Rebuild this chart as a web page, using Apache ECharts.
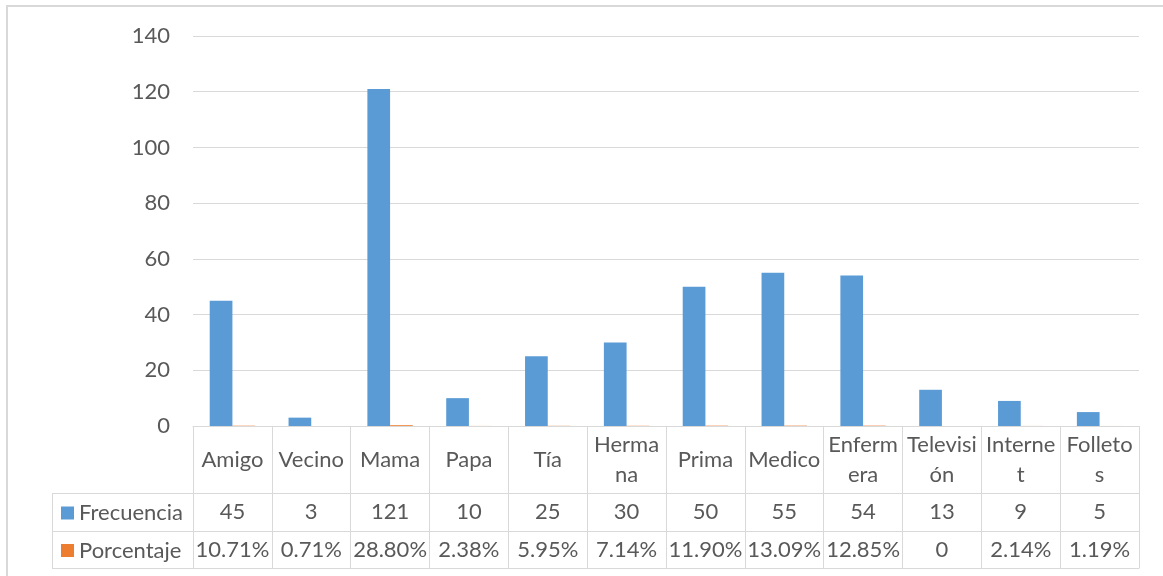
<!DOCTYPE html>
<html>
<head>
<meta charset="utf-8">
<script src="https://cdn.jsdelivr.net/npm/echarts@6/dist/echarts.min.js"></script>
<style>
html,body{margin:0;padding:0;background:#fff;}
#chart{width:1163px;height:576px;}
</style>
</head>
<body>
<div id="chart"></div>
<script>
const categories = ['Amigo','Vecino','Mama','Papa','Tía','Hermana','Prima','Medico','Enfermera','Televisión','Internet','Folletos'];
const categoryLabels = ['Amigo','Vecino','Mama','Papa','Tía','Herma\nna','Prima','Medico','Enferm\nera','Televisi\nón','Interne\nt','Folleto\ns'];
const frecuencia = [45,3,121,10,25,30,50,55,54,13,9,5];
const porcentaje = [0.1071,0.0071,0.2880,0.0238,0.0595,0.0714,0.1190,0.1309,0.1285,0,0.0214,0.0119];
const yTicks = {min:0, max:140, interval:20};

const FONT = 'Lato';
const TXT = '#595959';
const LINE = '#d9d9d9';
const FS = 22;

const gridLeft = 193, gridRight = 1139, gridTop = 36, axisY = 426;
const row1 = 67, row2 = 38, row3 = 37;
const tableLeft = 52;

function fmtPct(v){ return v === 0 ? '0' : (v*100).toFixed(2) + '%'; }

const chart = echarts.init(document.getElementById('chart'), null, {renderer:'canvas'});

const baseX = {
  type:'category', data:categories, gridIndex:0, position:'bottom',
  axisLine:{show:true, lineStyle:{color:LINE, width:1}},
  axisTick:{show:true, interval:0, lineStyle:{color:LINE, width:1}},
  axisLabel:{interval:0, color:TXT, fontFamily:FONT, fontSize:FS, verticalAlign:'middle'},
  splitLine:{show:false}
};

function legendAt(name, centerY){
  return {data:[name], orient:'vertical', left:61, top:centerY-12+1, padding:0,
    itemWidth:13, itemHeight:13, itemGap:0, icon:'rect',
    textStyle:{color:TXT, fontFamily:FONT, fontSize:FS, lineHeight:24, padding:[0,0,0,0]},
    selectedMode:false};
}

const option = {
  animation:false,
  backgroundColor:'#fff',
  textStyle:{fontFamily:FONT},
  grid:{left:gridLeft, right:1163-gridRight, top:gridTop, bottom:576-axisY, containLabel:false},
  legend:[
    legendAt('Frecuencia', axisY+row1+row2/2),
    legendAt('Porcentaje', axisY+row1+row2+row3/2)
  ],
  xAxis:[
    Object.assign({}, baseX, {
      axisTick:{show:true, interval:0, length:row1, lineStyle:{color:LINE}},
      axisLabel:Object.assign({}, baseX.axisLabel, {margin:row1/2, lineHeight:30,
        formatter:(v,i)=>categoryLabels[i]})
    }),
    Object.assign({}, baseX, {
      offset:row1,
      axisTick:{show:true, interval:0, length:row2, lineStyle:{color:LINE}},
      axisLabel:Object.assign({}, baseX.axisLabel, {margin:row2/2,
        formatter:(v,i)=>String(frecuencia[i])})
    }),
    Object.assign({}, baseX, {
      offset:row1+row2,
      axisTick:{show:true, interval:0, length:row3, lineStyle:{color:LINE}},
      axisLabel:Object.assign({}, baseX.axisLabel, {margin:row3/2,
        formatter:(v,i)=>fmtPct(porcentaje[i])})
    }),
    Object.assign({}, baseX, {
      offset:row1+row2+row3,
      axisTick:{show:false},
      axisLabel:{show:false}
    })
  ],
  yAxis:{
    type:'value', min:yTicks.min, max:yTicks.max, interval:yTicks.interval,
    axisLine:{show:false}, axisTick:{show:false},
    axisLabel:{color:TXT, fontFamily:FONT, fontSize:FS, margin:23},
    splitLine:{show:true, lineStyle:{color:LINE, width:1}}
  },
  series:[
    {name:'Frecuencia', type:'bar', xAxisIndex:0, data:frecuencia, barWidth:'28.8%', barGap:'0%',
     itemStyle:{color:'#5B9BD5'}},
    {name:'Porcentaje', type:'bar', xAxisIndex:0, data:porcentaje, barWidth:'28.8%', barGap:'0%',
     itemStyle:{color:'#ED7D31'}}
  ],
  graphic:[
    {type:'rect', silent:true, shape:{x:7, y:6, width:1200, height:620},
     style:{fill:null, stroke:LINE, lineWidth:2}},
    {type:'line', silent:true, shape:{x1:tableLeft, y1:axisY+row1+0.5, x2:gridLeft, y2:axisY+row1+0.5}, style:{stroke:LINE, lineWidth:1}},
    {type:'line', silent:true, shape:{x1:tableLeft, y1:axisY+row1+row2+0.5, x2:gridLeft, y2:axisY+row1+row2+0.5}, style:{stroke:LINE, lineWidth:1}},
    {type:'line', silent:true, shape:{x1:tableLeft, y1:axisY+row1+row2+row3+0.5, x2:gridLeft, y2:axisY+row1+row2+row3+0.5}, style:{stroke:LINE, lineWidth:1}},
    {type:'line', silent:true, shape:{x1:tableLeft+0.5, y1:axisY+row1, x2:tableLeft+0.5, y2:axisY+row1+row2+row3+1}, style:{stroke:LINE, lineWidth:1}}
  ]
};
chart.setOption(option);
</script>
</body>
</html>
